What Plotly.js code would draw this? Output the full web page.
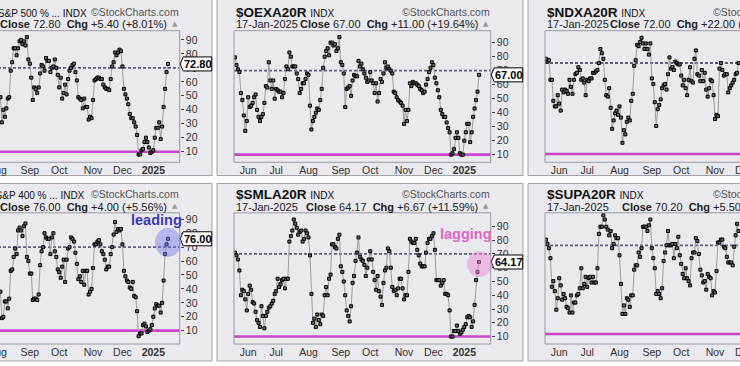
<!DOCTYPE html>
<html>
<head>
<meta charset="utf-8">
<script src="https://cdn.plot.ly/plotly-3.0.1.min.js"></script>
<style>
html,body{margin:0;padding:0;width:740px;height:366px;overflow:hidden;background:#ffffff;}
#chart{position:absolute;left:-100px;top:0;width:940px;height:366px;}
</style>
</head>
<body>
<div id="chart"></div>
<script>
// ---------------- data ----------------
const firstDay = '2024-05-20';
const lastDay = '2025-01-17';
const marketHolidays = ['2024-05-27','2024-06-19','2024-07-04','2024-09-02','2024-11-28','2024-12-25','2025-01-01','2025-01-09','2025-01-20'];
const monthTickDates = ['2024-06-03','2024-07-01','2024-08-01','2024-09-03','2024-10-01','2024-11-01','2024-12-02','2025-01-02'];
const monthTickLabels = ['Jun','Jul','Aug','Sep','Oct','Nov','Dec','<b>2025</b>'];
const yTickValues = [10,20,30,40,50,60,70,80,90];

// S&P 500 % above 20-day (visible from Aug 5, 2024)
const spxa20rStart = '2024-08-05';
const spxa20r = [49,31,40,35,41,48,49,68,74,
84,84,79,84,89,90,87,89,86,
92,76,73,63,47,56,55,52,56,66,
72,71,68,77,75,75,67,70,71,
76,70,65,56,63,48,52,58,51,62,
68,70,72,73,67,61,49,48,47,
41,48,42,42,33,35,34,47,61,62,
63,63,62,62,58,56,55,55,54,62,
71,74,81,79,81,83,82,71,55,
51,48,44,37,34,34,31,28,22,8,
8,11,12,17,20,17,13,9,10,11,
20,27,27,31,19,28,42,55,67,72.8];

// $OEXA20R
const oexa20rStart = '2024-05-20';
const oexa20r = [79.5,74,71,69,54,49,38,27,34,51,
44,45,47,51,53,42,37,34,37,39,
47,59,58,76,63,57,63,50,57,56,
55,55,51,54,64,73,71,83,80,73,
73,73,68,64,54,57,61,61,64,68,
67,45,28,34,37,40,43,42,49,57,
72,80,84,86,81,90,90,88,89,84,
86,94,76,74,68,44,57,58,59,52,
63,67,66,66,77,73,75,71,68,65,
62,63,69,63,61,54,61,48,54,64,
62,68,76,72,73,71,70,68,55,54,
51,49,48,47,45,32,42,34,42,61,
59,62,61,61,60,59,57,56,54,55,
60,64,69,72,76,74,65,61,56,51,
42,39,37,37,33,29,26,10,11,14,
22,26,22,11,10,10,20,26,32,32,
19,26,37,43,49,55,67];

// $NDXA20R (visible part)
const ndxa20rStart = '2024-05-20';
const ndxa20r = [78,76,77,63,63,48,44,44,52,46,
41,56,54,56,55,53,63,58,53,63,
67,68,72,70,63,64,61,52,63,62,
64,64,68,68,69,70,75,85,82,78,
63,52,51,57,43,28,34,39,41,38,
44,36,18,27,24,33,36,34,48,53,
73,77,88,87,90,93,89,85,89,85,
81,89,64,60,47,30,42,45,49,57,
59,60,56,67,79,71,72,70,76,75,
74,74,66,59,63,57,52,63,72,62,
61,78,84,67,66,62,70,62,68,56,
51,57,63,62,52,35,38,37,71,75,
70,66,67,67,54,57,59,61,63,67,
68,75];

// S&P 400 % above 20-day (visible from Aug 5, 2024)
const mida20rStart = '2024-08-05';
const mida20r = [38,19,20,31,31,26,33,53,54,
63,69,65,82,84,82,78,85,87,
63,60,51,51,32,33,33,32,36,57,
67,70,80,77,76,76,65,77,80,
67,63,54,52,48,56,61,45,61,69,
70,77,76,74,66,58,47,49,45,
53,43,53,53,36,38,40,55,72,72,
74,75,72,67,65,61,54,56,56,65,
70,79,88,81,83,82,83,72,53,
49,46,45,41,40,45,35,34,24,6,
8,8,14,15,13,9,10,11,14,20,
26,29,28,28,23,30,46,65,72,76];

// $SMLA20R
const smla20rStart = '2024-05-20';
const smla20r = [71,69,66,58,40,44,43,37,29,41,
47,44,35,34,28,22,20,17,32,25,
16,25,28,31,32,34,36,41,43,52,
46,48,51,52,45,52,52,79,83,87,
95,92,89,84,86,87,79,81,87,85,
82,69,41,20,23,17,26,22,19,26,
25,40,46,40,52,55,77,77,75,74,
81,84,61,57,50,40,29,25,21,32,
49,54,65,71,82,68,66,65,62,54,
60,66,72,66,57,51,44,54,43,39,
33,49,58,60,74,72,60,46,43,44,
40,45,52,52,45,37,40,40,57,81,
79,78,78,81,73,69,63,61,61,61,
71,78,81,81,83,85,73,51,51,51,
47,49,51,41,41,40,29,10,10,14,
14,18,14,12,13,15,17,19,24,25,
24,17,21,33,51,57,64.17];

// $SUPA20R (visible part)
const supa20rStart = '2024-05-20';
const supa20r = [76,73,70,63,43,47,40,27,35,49,
44,34,38,35,29,28,25,37,25,32,
32,37,38,42,56,42,45,50,43,49,
50,46,50,46,46,56,80,85,85,93,
90,85,83,79,82,70,73,79,77,77,
65,45,24,30,24,35,34,29,37,37,
55,58,58,67,64,70,85,85,85,82,
86,90,70,63,56,38,40,38,35,42,
61,67,72,82,72,72,73,63,73,
70,78,65,59,52,49,56,49,47,44,
63,67,67,77,75,66,55,51,46,47,
41,52,50,49,37,40,39,54,74,74,
76,76,71,70,64,60,60,60,58,71,
79,87,82];

const symbols = ['$SPXA20R','$OEXA20R','$NDXA20R','$MIDA20R','$SMLA20R','$SUPA20R'];
const names = ['S&amp;P 500 % ... INDX','INDX','INDX','S&amp;P 400 % ... INDX','INDX','INDX'];
const closes = ['72.80','67.00','72.00','76.00','64.17','70.20'];
const closeValues = [72.8,67,72,76,64.17,70.2];
const changes = ['+5.40 (+8.01%)','+11.00 (+19.64%)','+22.00 (+44.00%)','+4.00 (+5.56%)','+6.67 (+11.59%)','+5.50 (+8.50%)'];
const refLevels = [70,70,75,70,70,72];
const dateText = '17-Jan-2025';

// ---------------- helpers ----------------
function tradingDays(from, to, holidays) {
  const out = [];
  const d = new Date(from + 'T00:00:00Z');
  const e = new Date(to + 'T00:00:00Z');
  while (d <= e) {
    const w = d.getUTCDay();
    const s = d.toISOString().slice(0, 10);
    if (w !== 0 && w !== 6 && holidays.indexOf(s) < 0) out.push(s);
    d.setUTCDate(d.getUTCDate() + 1);
  }
  return out;
}
const days = tradingDays(firstDay, lastDay, marketHolidays);
const xFor = (vals, start) => { const i = days.indexOf(start); return days.slice(i, i + vals.length); };

// ---------------- layout geometry (virtual canvas px) ----------------
const W = 940, H = 366;
const colPlotLeft = [23, 334, 645], PLOT_W = 256.7;
const colFrameLeft = [6, 317, 628], FRAME_W = 306;
const rowPlotTop = [30.7, 212.8], rowPlotBottom = [162.3, 344];
const rowFrameTop = [-2, 183.5], rowFrameBottom = [175.5, 361];
const px = v => v / W, py = v => 1 - v / H;
const X_RANGE = ['2024-05-17 07:40', '2025-01-29 23:00'];

const series = [
  {vals: spxa20r, start: spxa20rStart, col: 0, row: 0, yRange: [2.4, 96.6]},
  {vals: oexa20r, start: oexa20rStart, col: 1, row: 0, yRange: [4.55, 98.55]},
  {vals: ndxa20r, start: ndxa20rStart, col: 2, row: 0, yRange: [4.07, 98.07]},
  {vals: mida20r, start: mida20rStart, col: 0, row: 1, yRange: [0.42, 94.67]},
  {vals: smla20r, start: smla20rStart, col: 1, row: 1, yRange: [4.6, 99.9]},
  {vals: supa20r, start: supa20rStart, col: 2, row: 1, yRange: [3.02, 94.74]}
];

const FONT = 'Liberation Sans, Arial, Helvetica, sans-serif';
const data = [], shapes = [], annotations = [];
const layout = {
  width: W, height: H,
  margin: {l: 0, r: 0, t: 0, b: 0},
  paper_bgcolor: '#ffffff',
  plot_bgcolor: '#f8f8fd',
  showlegend: false,
  font: {family: FONT, color: '#222'},
  shapes: shapes,
  annotations: annotations
};

series.forEach((p, k) => {
  const n = k + 1, sx = n === 1 ? '' : String(n);
  const L = colPlotLeft[p.col], R = L + PLOT_W, T = rowPlotTop[p.row], B = rowPlotBottom[p.row];
  const FL = colFrameLeft[p.col];

  shapes.push({type: 'rect', xref: 'paper', yref: 'paper',
    x0: px(FL), x1: px(FL + FRAME_W), y0: py(rowFrameBottom[p.row]), y1: py(rowFrameTop[p.row]),
    fillcolor: '#e9e9ee', line: {color: '#a3a3ab', width: 1}, layer: 'below'});

  layout['xaxis' + sx] = {
    domain: [px(L), px(R)], anchor: 'y' + sx, type: 'date', range: X_RANGE,
    rangebreaks: [{bounds: ['sat', 'mon']}, {values: marketHolidays}],
    tickmode: 'array', tickvals: monthTickDates, ticktext: monthTickLabels,
    ticks: '', showgrid: false, zeroline: false, showline: false,
    tickfont: {size: 10.5, color: '#333', family: FONT}, automargin: false, fixedrange: true
  };
  layout['yaxis' + sx] = {
    domain: [py(B), py(T)], anchor: 'x' + sx, side: 'right', range: p.yRange,
    tickmode: 'array', tickvals: yTickValues, ticks: 'outside', ticklen: 3, tickcolor: '#444', tickwidth: 1,
    showgrid: false, zeroline: false, showline: false,
    tickfont: {size: 10.5, color: '#333', family: FONT}, automargin: false, fixedrange: true
  };

  // reference lines
  shapes.push({type: 'line', xref: 'x' + sx + ' domain', yref: 'y' + sx, x0: 0, x1: 1,
    y0: 10, y1: 10, line: {color: '#cc44cc', width: 2.6}, layer: 'below'});
  shapes.push({type: 'line', xref: 'x' + sx + ' domain', yref: 'y' + sx, x0: 0, x1: 1,
    y0: refLevels[k], y1: refLevels[k], line: {color: '#5e5e7c', width: 1.8, dash: '3px,2px'}, layer: 'below'});
  shapes.push({type: 'rect', xref: 'x' + sx + ' domain', yref: 'y' + sx + ' domain', x0: 0, x1: 1, y0: 0, y1: 1,
    line: {color: '#9a9aa4', width: 1}, layer: 'above'});

  data.push({
    type: 'scatter', mode: 'lines+markers',
    x: xFor(p.vals, p.start), y: p.vals,
    xaxis: 'x' + sx, yaxis: 'y' + sx,
    line: {color: '#9c9c9c', width: 1},
    marker: {symbol: 'square', size: 3, color: '#6a6a6a', line: {color: '#000000', width: 1}},
    hoverinfo: 'skip'
  });

  // header texts
  annotations.push({xref: 'paper', yref: 'paper', x: px(L), y: py(T - 18.7), xanchor: 'left', yanchor: 'middle',
    text: '<b>' + symbols[k] + '</b> <span style="font-size:10px">' + names[k] + '</span>',
    font: {size: 13.5, color: '#111', family: FONT}, showarrow: false});
  annotations.push({xref: 'paper', yref: 'paper', x: px(R + 1), y: py(T - 18.7), xanchor: 'right', yanchor: 'middle',
    text: '©StockCharts.com', font: {size: 10.5, color: '#555', family: FONT}, showarrow: false});
  annotations.push({xref: 'paper', yref: 'paper', x: px(L), y: py(T - 6.3), xanchor: 'left', yanchor: 'middle',
    text: dateText, font: {size: 11, color: '#222', family: FONT}, showarrow: false});
  annotations.push({xref: 'paper', yref: 'paper', x: px(R - 11), y: py(T - 6.3), xanchor: 'right', yanchor: 'middle',
    text: '<b>Close</b> ' + closes[k] + '  <b>Chg</b> ' + changes[k], font: {size: 11, color: '#222', family: FONT}, showarrow: false});
  annotations.push({xref: 'paper', yref: 'paper', x: px(R - 4.5), y: py(T - 6.8), xanchor: 'center', yanchor: 'middle',
    text: '▲', font: {size: 7, color: '#9a9a9a', family: 'DejaVu Sans'}, showarrow: false});

  // last value tag (pointed box)
  const unitsPerPx = (p.yRange[1] - p.yRange[0]) / (B - T);
  const v = closeValues[k], dy = 7 * unitsPerPx;
  shapes.push({type: 'path', xref: 'paper', yref: 'y' + sx, layer: 'above',
    path: 'M' + px(R + 0.5) + ',' + v + ' L' + px(R + 3.5) + ',' + (v + dy) + ' L' + px(R + 32) + ',' + (v + dy) +
          ' L' + px(R + 32) + ',' + (v - dy) + ' L' + px(R + 3.5) + ',' + (v - dy) + ' Z',
    fillcolor: '#ffffff', line: {color: '#000000', width: 1}});
  annotations.push({xref: 'paper', yref: 'y' + sx, x: px(R + 18), y: v, xanchor: 'center', yanchor: 'middle',
    text: '<b>' + closes[k] + '</b>', font: {size: 11, color: '#000', family: FONT}, showarrow: false});
});

// highlight circles + labels
shapes.push({type: 'circle', xref: 'paper', yref: 'paper', x0: px(255), x1: px(281), y0: py(257), y1: py(228),
  fillcolor: 'rgba(110,120,235,0.45)', line: {width: 0}, layer: 'above'});
shapes.push({type: 'circle', xref: 'paper', yref: 'paper', x0: px(567), x1: px(592), y0: py(277), y1: py(251),
  fillcolor: 'rgba(240,140,215,0.5)', line: {width: 0}, layer: 'above'});
annotations.push({xref: 'paper', yref: 'paper', x: px(256.5), y: py(220.3), xanchor: 'center', yanchor: 'middle',
  text: '<b>leading</b>', font: {size: 14.5, color: '#3c3cb0', family: FONT}, showarrow: false});
annotations.push({xref: 'paper', yref: 'paper', x: px(566.3), y: py(234.3), xanchor: 'center', yanchor: 'middle',
  text: '<b>lagging</b>', font: {size: 14.5, color: '#e064c6', family: FONT}, showarrow: false});

Plotly.newPlot('chart', data, layout, {staticPlot: true, displayModeBar: false});
</script>
</body>
</html>
